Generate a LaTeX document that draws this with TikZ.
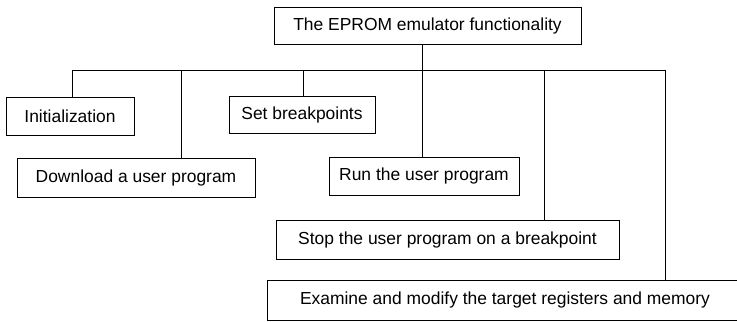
\documentclass[tikz,border=0pt]{standalone}
\usepackage{fontspec}
\setmainfont{Liberation Sans}
\begin{document}
\begin{tikzpicture}[
            x=0.025cm,
            y=-0.025cm,
            line width=0.65pt,
            box/.style={
                rectangle,
                draw,
                inner sep=0pt,
                font=\fontsize{12.4}{14}\selectfont
            }
        ]
            \useasboundingbox (0, 0) rectangle (737, 322);

            \node[box, minimum width=7.675cm, minimum height=0.925cm] (top) at (427.5, 25.5) {The EPROM emulator functionality};

            \node[box, minimum width=3.2cm, minimum height=0.95cm] (init) at (70, 116) {Initialization};
            \node[box, minimum width=5.95cm, minimum height=0.975cm] (load) at (136, 177.5) {Download a user program};
            \node[box, minimum width=3.65cm, minimum height=0.925cm] (setbp) at (302, 114.5) {Set breakpoints};
            \node[box, minimum width=4.75cm, minimum height=0.95cm] (run) at (424, 176) {Run the user program};
            \node[box, minimum width=8.575cm, minimum height=0.975cm] (stop) at (447.5, 239.5) {Stop the user program on a breakpoint};
            \node[box, minimum width=11.85cm, minimum height=1cm] (exam) at (505, 300) {Examine and modify the target registers and memory};

            \coordinate (b1) at (72, 70);
            \coordinate (b2) at (181, 70);
            \coordinate (b3) at (303, 70);
            \coordinate (b4) at (422, 70);
            \coordinate (b5) at (544, 70);
            \coordinate (b6) at (665, 70);

            \draw (b1) -- (b6);
            \draw (b4 |- top.south) -- (b4 |- run.north);

            \draw (b1) -- (b1 |- init.north);
            \draw (b2) -- (b2 |- load.north);
            \draw (b3) -- (b3 |- setbp.north);
            \draw (b5) -- (b5 |- stop.north);
            \draw (b6) -- (b6 |- exam.north);

        \end{tikzpicture}
\end{document}
